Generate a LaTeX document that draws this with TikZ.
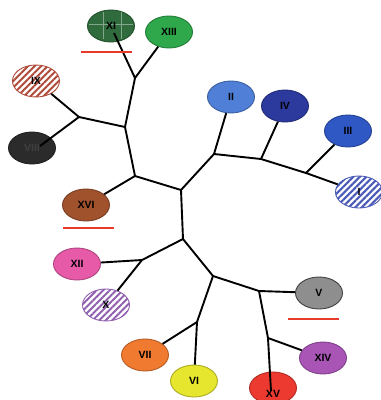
\documentclass[tikz,border=0pt]{standalone}
\usepackage{fontspec}
\setmainfont{Liberation Sans}
\usetikzlibrary{patterns.meta,calc,shapes.geometric}

\definecolor{cXI}{HTML}{2F6B3C}
\definecolor{cXIII}{HTML}{2EA84A}
\definecolor{cIX}{HTML}{B04A3A}
\definecolor{cVIII}{HTML}{2B2B2B}
\definecolor{cXVI}{HTML}{A0522D}
\definecolor{cII}{HTML}{4F7FD6}
\definecolor{cIV}{HTML}{2C3A9E}
\definecolor{cIII}{HTML}{3058C4}
\definecolor{cI}{HTML}{4A5AB8}
\definecolor{cXII}{HTML}{E65AA8}
\definecolor{cX}{HTML}{9060B0}
\definecolor{cVII}{HTML}{F07A30}
\definecolor{cVI}{HTML}{E6E62E}
\definecolor{cV}{HTML}{8E8E8E}
\definecolor{cXIV}{HTML}{A855B5}
\definecolor{cXV}{HTML}{EC3A30}
\definecolor{scalebar}{HTML}{E83A2A}

\tikzset{
  lbl/.style={font=\fontsize{10.5}{10.5}\selectfont\bfseries, text=black},
  taxon/.style={ellipse, minimum width=47pt, minimum height=32pt, inner sep=0pt,
    fill=#1, draw=#1!75!black, line width=0.9pt, lbl},
  hatched/.style={ellipse, minimum width=47pt, minimum height=32pt, inner sep=0pt,
    fill=white, draw=#1, line width=0.9pt,
    postaction={pattern={Lines[angle=45,distance=4.6pt,line width=2pt]}, pattern color=#1},
    lbl},
  branch/.style={line width=1.9pt, black},
  bar/.style={line width=2.4pt, scalebar},
}

\begin{document}
\begin{tikzpicture}[x=1pt, y=-1pt]
\useasboundingbox (0,0) rectangle (381,400);
\fill[white] (0,0) rectangle (381,400);

% leaves
\node[taxon=cXI]   (XI)   at (111,26)  {};
\node[taxon=cXIII] (XIII) at (169,32)  {XIII};
\node[hatched=cIX] (IX)   at (36,81)   {IX};
\node[taxon=cVIII] (VIII) at (32,148)  {};
\node[taxon=cXVI]  (XVI)  at (86,205)  {XVI};
\node[taxon=cII]   (II)   at (231,97)  {II};
\node[taxon=cIV]   (IV)   at (285,106) {IV};
\node[taxon=cIII]  (III)  at (348,131) {III};
\node[hatched=cI]  (I)    at (359,192) {I};
\node[taxon=cXII]  (XII)  at (77,264)  {XII};
\node[hatched=cX]  (X)    at (106,305) {X};
\node[taxon=cVII]  (VII)  at (145,355) {VII};
\node[taxon=cVI]   (VI)   at (194,381) {VI};
\node[taxon=cV, draw=black!75] (V) at (319,293) {V};
\node[taxon=cXIV]  (XIV)  at (323,358) {XIV};
\node[taxon=cXV]   (XV)   at (273,388) {};

% crosshair inside XI
\draw[line width=0.7pt, cXI!60!white]
  (89,24) -- (133,24) (103,12) -- (103,39) (121,12) -- (121,39);

% internal nodes of the tree
\coordinate (j1) at (135,78);
\coordinate (j2) at (125,127);
\coordinate (j3) at (79,117);
\coordinate (j4) at (135,176);
\coordinate (j5) at (181,190);
\coordinate (jA) at (214,154);
\coordinate (jB) at (261,159);
\coordinate (jC) at (306,173);
\coordinate (j6) at (183,239);
\coordinate (j7) at (142,260);
\coordinate (j8) at (213,276);
\coordinate (jD) at (197,322);
\coordinate (jE) at (259,291);
\coordinate (jF) at (268,338);

% branch ends that run into the ellipses
\coordinate (eXI)   at (114,33);
\coordinate (eVIII) at (40,146);
\coordinate (eXV)   at (271,391);

% branches
\draw[branch] (j1) -- (eXI);
\draw[branch] (j1) -- (XIII);
\draw[branch] (j1) -- (j2);
\draw[branch] (j3) -- (j2);
\draw[branch] (j3) -- (IX);
\draw[branch] (j3) -- (eVIII);
\draw[branch] (j2) -- (j4);
\draw[branch] (j4) -- (XVI);
\draw[branch] (j4) -- (j5);
\draw[branch] (j5) -- (jA);
\draw[branch] (jA) -- (II);
\draw[branch] (jA) -- (jB);
\draw[branch] (jB) -- (IV);
\draw[branch] (jB) -- (jC);
\draw[branch] (jC) -- (III);
\draw[branch] (jC) -- (I);
\draw[branch] (j5) -- (j6);
\draw[branch] (j6) -- (j7);
\draw[branch] (j7) -- (XII);
\draw[branch] (j7) -- (X);
\draw[branch] (j6) -- (j8);
\draw[branch] (j8) -- (jD);
\draw[branch] (jD) -- (VII);
\draw[branch] (jD) -- (VI);
\draw[branch] (j8) -- (jE);
\draw[branch] (jE) -- (V);
\draw[branch] (jE) -- (jF);
\draw[branch] (jF) -- (XIV);
\draw[branch] (jF) -- (eXV);

% labels drawn over the branches that enter their ellipses
\node[lbl] at (XI) {XI};
\node[lbl, text=black!75] at (VIII) {VIII};
\node[lbl] at ($(XV)+(0,6)$) {XV};

% red bars under selected taxa
\coordinate (b1a) at (81,52);  \coordinate (b1b) at (132,52);
\coordinate (b2a) at (63,228); \coordinate (b2b) at (114,228);
\coordinate (b3a) at (288,319); \coordinate (b3b) at (339,319);
\draw[bar] (b1a) -- (b1b);
\draw[bar] (b2a) -- (b2b);
\draw[bar] (b3a) -- (b3b);
\end{tikzpicture}
\end{document}
